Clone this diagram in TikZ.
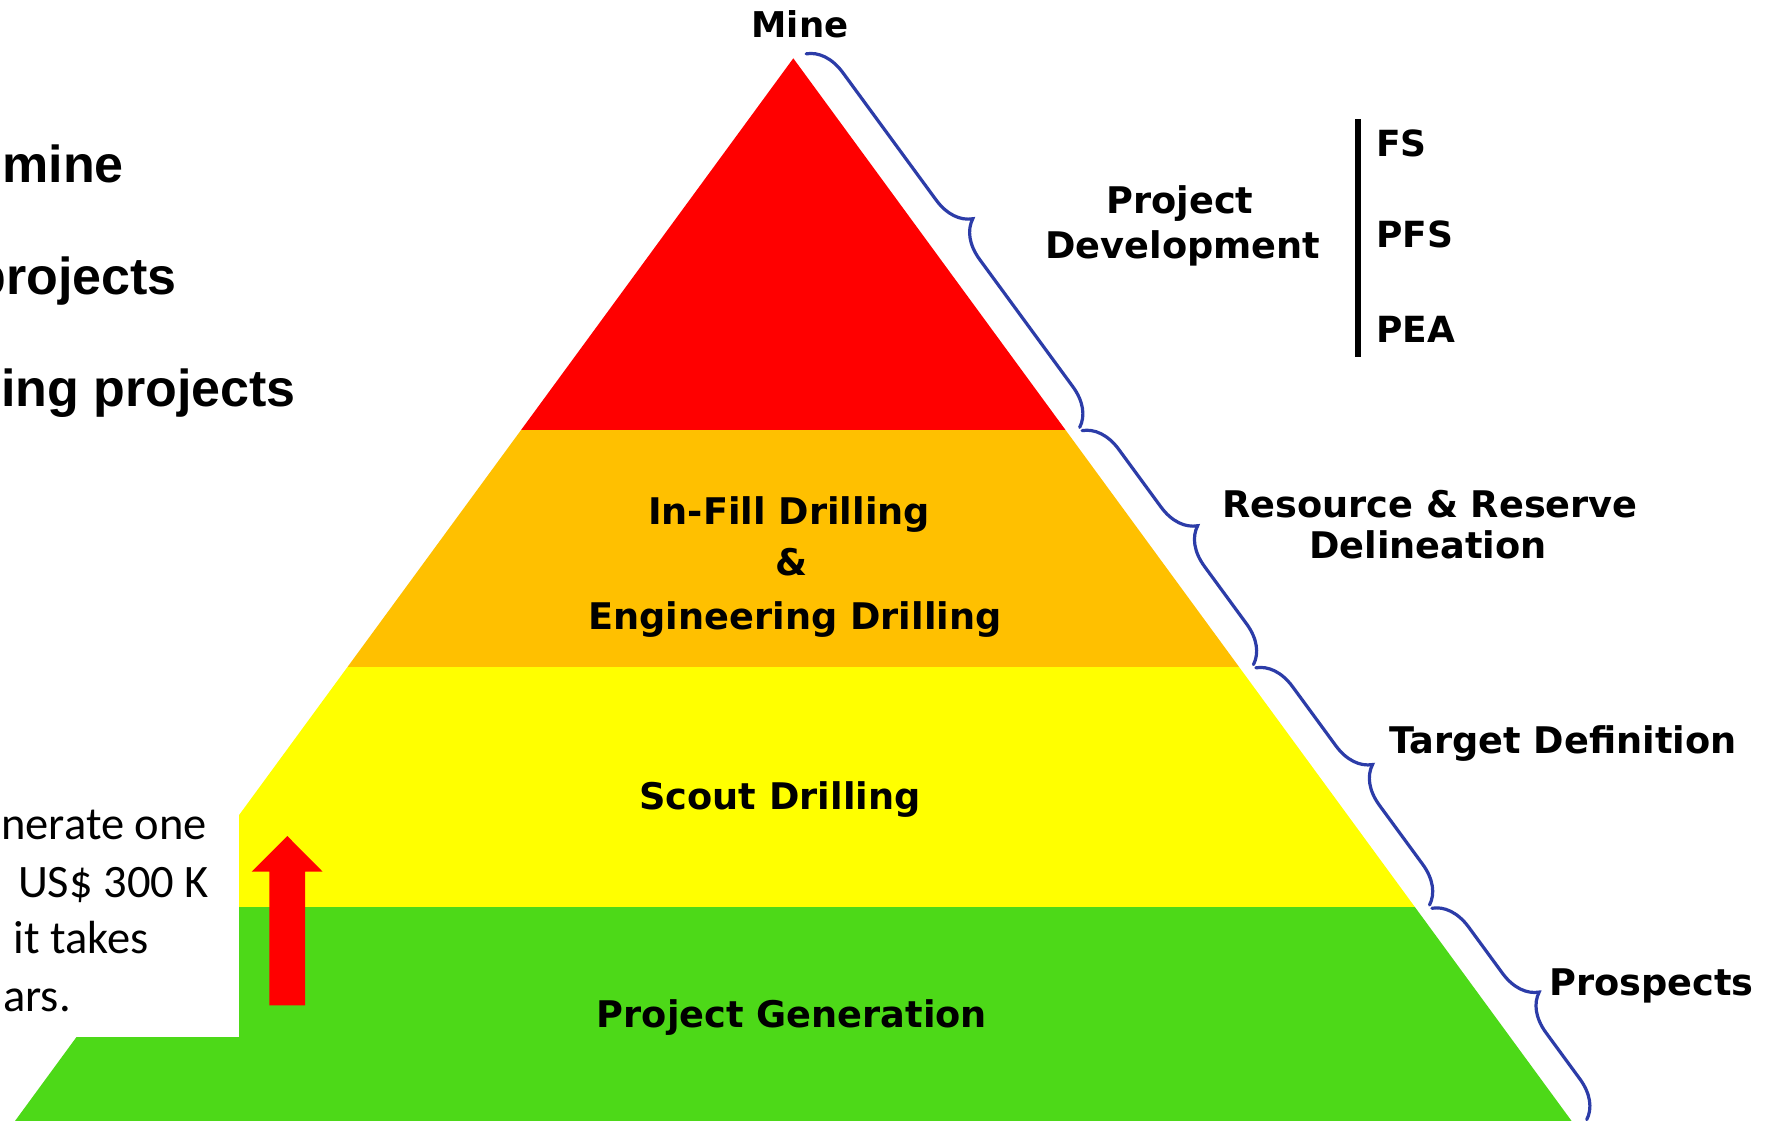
\documentclass[tikz,border=0pt]{standalone}
\usepackage{fontspec}
\usetikzlibrary{decorations.pathreplacing}
\newfontfamily\dvfont{DejaVu Sans}
\newfontfamily\arfont{Liberation Sans}
\newfontfamily\clfont{Carlito}
\definecolor{pyrred}{RGB}{255,0,0}
\definecolor{pyrorange}{RGB}{255,192,0}
\definecolor{pyryellow}{RGB}{255,255,0}
\definecolor{pyrgreen}{RGB}{77,217,24}
\definecolor{braceblue}{RGB}{44,60,168}
\begin{document}
\begin{tikzpicture}[x=1pt,y=-1pt,
  lbl/.style={inner sep=0pt, font=\dvfont\bfseries\fontsize{36.7}{44}\selectfont},
  big/.style={inner sep=0pt, font=\arfont\bfseries\fontsize{52}{60}\selectfont},
  para/.style={inner sep=0pt, font=\clfont\fontsize{46.5}{56}\selectfont},
  bracestyle/.style={draw=braceblue, line width=3.2pt, line cap=round, decorate,
    decoration={brace, amplitude=37pt}}]
\useasboundingbox (0,0) rectangle (1770,1120);
\clip (0,0) rectangle (1770,1120);
\fill[white] (0,0) rectangle (1770,1120);
\coordinate (apex) at (793.3,58.3);
% pyramid bands
\begin{scope}
  \clip (apex) -- (8.4,1130) -- (1578.2,1130) -- cycle;
  \fill[pyrred] (0,40) rectangle (1770,430);
  \fill[pyrorange] (0,430) rectangle (1770,667);
  \fill[pyryellow] (0,667) rectangle (1770,907);
  \fill[pyrgreen] (0,907) rectangle (1770,1130);
\end{scope}
% white text box overlapping the pyramid
\fill[white] (-5,700) rectangle (239,1036.7);
% red up arrow
\fill[pyrred] (269.3,1005.3) -- (269.3,871.7) -- (251.7,871.7) -- (287.3,836)
  -- (322.7,871.7) -- (305,871.7) -- (305,1005.3) -- cycle;
% braces
\coordinate (b1s) at (806.15,53.85);
\coordinate (b1e) at (1079.74,427.40);
\coordinate (b2s) at (1082.10,430.62);
\coordinate (b2e) at (1253.46,664.59);
\coordinate (b3s) at (1255.83,667.82);
\coordinate (b3e) at (1429.55,905.02);
\coordinate (b4s) at (1431.92,908.25);
\coordinate (b4e) at (1586.73,1119.63);
\draw[bracestyle] (b1s) -- (b1e);
\draw[bracestyle] (b2s) -- (b2e);
\draw[bracestyle] (b3s) -- (b3e);
\draw[bracestyle] (b4s) -- (b4e);
% vertical bar
\coordinate (bartop) at (1358,119);
\coordinate (barbot) at (1358,357);
\draw[line width=6pt] (bartop) -- (barbot);
% labels
\node[lbl, anchor=base, font=\dvfont\bfseries\fontsize{35.5}{42}\selectfont] (mine) at (800,37) {Mine};
\node[lbl, anchor=base] (proj) at (1180,213) {Project};
\node[lbl, anchor=base] (dev) at (1183,258) {Development};
\node[lbl, anchor=base west, font=\dvfont\bfseries\fontsize{36}{42}\selectfont] (fs) at (1376,156) {FS};
\node[lbl, anchor=base west, font=\dvfont\bfseries\fontsize{36}{42}\selectfont] (pfs) at (1376,247) {PFS};
\node[lbl, anchor=base west, font=\dvfont\bfseries\fontsize{36}{42}\selectfont] (pea) at (1376,342) {PEA};
\node[lbl, anchor=base] (rr) at (1430,517) {Resource \& Reserve};
\node[lbl, anchor=base] (del) at (1428,558) {Delineation};
\node[lbl, anchor=base west] (td) at (1389,753) {Target Definition};
\node[lbl, anchor=base west] (pros) at (1549,995) {Prospects};
\node[lbl, anchor=base] (infill) at (789,524) {In-Fill Drilling};
\node[lbl, anchor=base] (amp) at (791,575) {\&};
\node[lbl, anchor=base] (eng) at (795,629) {Engineering Drilling};
\node[lbl, anchor=base] (scout) at (780,809) {Scout Drilling};
\node[lbl, anchor=base] (pgen) at (792,1027) {Project Generation};
% left large text (cut off at the left edge)
\node[big, anchor=base east] (t1) at (124,182) {mine};
\node[big, anchor=base east] (t2) at (177,294) {projects};
\node[big, anchor=base east] (t3) at (296,406) {ing projects};
% left paragraph (cut off)
\node[para, anchor=base east] (p1) at (207,839) {nerate one};
\node[para, anchor=base east] (p2) at (209,897) {US\$ 300 K};
\node[para, anchor=base east] (p3) at (149,953) {it takes};
\node[para, anchor=base east] (p4) at (71,1011) {ars.};
\end{tikzpicture}
\end{document}
